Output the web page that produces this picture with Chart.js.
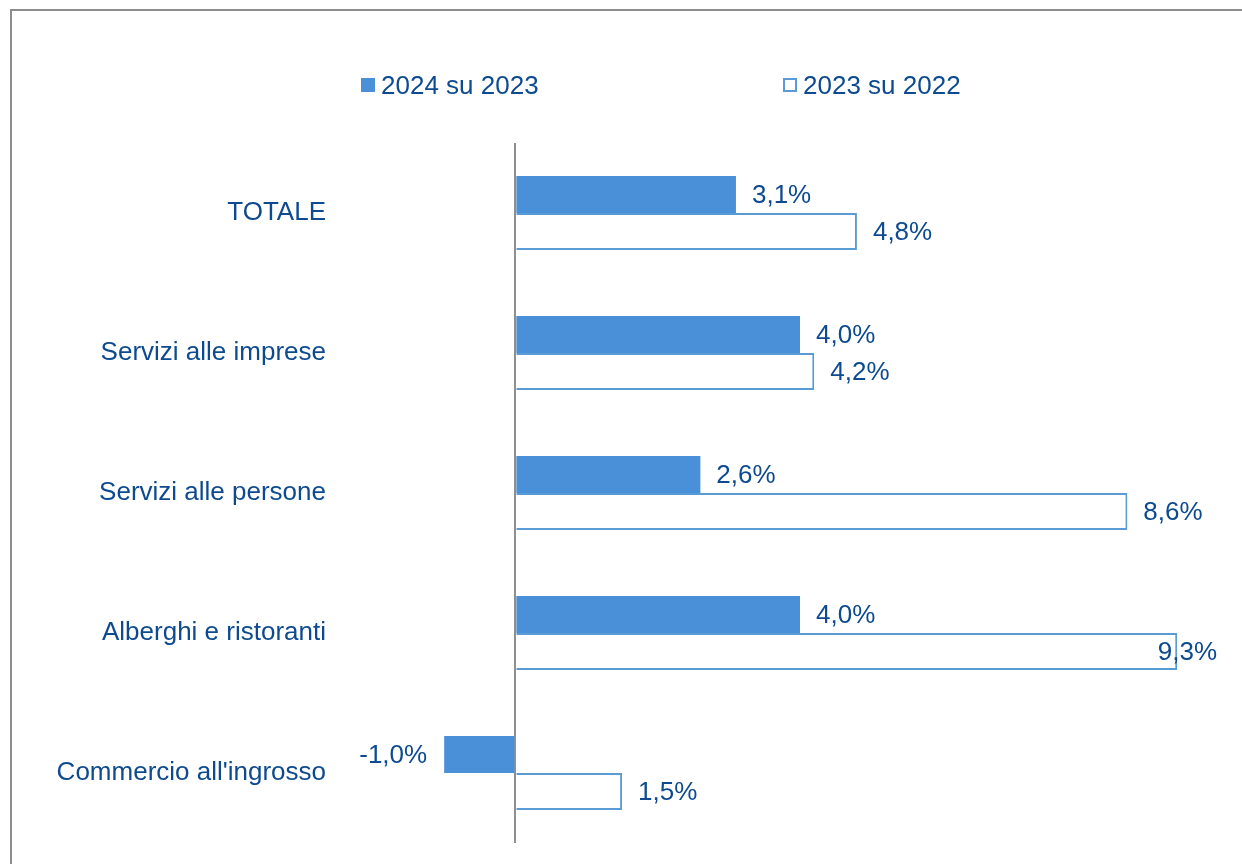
<!DOCTYPE html>
<html lang="it">
<head>
<meta charset="utf-8">
<title>Variazioni 2024 su 2023 e 2023 su 2022</title>
<script src="https://cdn.jsdelivr.net/npm/chart.js@4/dist/chart.umd.min.js"></script>
<style>
    html, body { margin: 0; padding: 0; background: #ffffff; }
    body { width: 1242px; height: 864px; position: relative; overflow: hidden;
           font-family: "Liberation Sans", Arial, sans-serif; }
    #frame { position: absolute; left: 10px; top: 9px; width: 1300px; height: 900px;
             border: 2px solid #8c8c8c; box-sizing: border-box; }
    #chart-wrap { position: absolute; left: 0; top: 0; width: 1242px; height: 864px; }
    .legend-item { position: absolute; top: 71px; height: 28px; line-height: 28px;
                   font-size: 26px; color: #0d4a8f; white-space: nowrap; }
    .legend-box { position: absolute; left: 0; top: 7px; width: 14px; height: 14px; box-sizing: border-box; }
    .legend-item span.txt { position: absolute; left: 20px; top: 0; }
</style>
</head>
<body>
<div id="frame"></div>
<div id="chart-wrap"><canvas id="bars-chart" width="1242" height="864"></canvas></div>
<div id="legend"></div>

<script>
const CATEGORIES  = ["TOTALE", "Servizi alle imprese", "Servizi alle persone", "Alberghi e ristoranti", "Commercio all'ingrosso"];
const SERIES_2024 = [3.1, 4.0, 2.6, 4.0, -1.0];
const SERIES_2023 = [4.8, 4.2, 8.6, 9.3, 1.5];
const SERIES_NAMES = ["2024 su 2023", "2023 su 2022"];

const TEXT_COLOR = "#0d4a8f";
const FILL_BLUE  = "#4a90d9";
const LINE_BLUE  = "#5b9bd5";
const FONT_FAMILY = "'Liberation Sans', Arial, sans-serif";

function formatPct(v)
{
    return v.toFixed(1).replace(".", ",") + "%";
}

// value labels next to each bar end
const valueLabels = {
    id: "valueLabels",
    afterDatasetsDraw(chart)
    {
        const ctx = chart.ctx;
        ctx.save();
        ctx.font = "26px " + FONT_FAMILY;
        ctx.fillStyle = TEXT_COLOR;
        ctx.textBaseline = "middle";
        ctx.textAlign = "left";
        chart.data.datasets.forEach((ds, i) => {
            chart.getDatasetMeta(i).data.forEach((bar, j) => {
                const v = ds.data[j];
                const text = formatPct(v);
                const w = ctx.measureText(text).width;
                let x;
                if (v < 0)
                {
                    x = bar.x - 17 - w;
                }
                else
                {
                    x = bar.x + 16;
                    if (x + w > 1217) x = 1217 - w;
                }
                ctx.fillText(text, x, bar.y + 1);
            });
        });
        ctx.restore();
    }
};

const ctx = document.getElementById("bars-chart").getContext("2d");

const barsChart = new Chart(ctx, {
    type: "bar",
    data: {
        labels: CATEGORIES,
        datasets: [
            {
                label: SERIES_NAMES[0],
                data: SERIES_2024,
                backgroundColor: FILL_BLUE,
                borderWidth: 0
            },
            {
                label: SERIES_NAMES[1],
                data: SERIES_2023,
                backgroundColor: "#ffffff",
                borderColor: LINE_BLUE,
                borderWidth: 2
            }
        ]
    },
    options: {
        indexAxis: "y",
        responsive: false,
        animation: false,
        devicePixelRatio: 1,
        categoryPercentage: 0.53,
        barPercentage: 1,
        layout: { padding: { left: 0, right: 15, top: 143, bottom: 21 } },
        plugins: {
            legend: { display: false },
            tooltip: { enabled: false }
        },
        scales: {
            x: {
                min: -2,
                max: 10,
                ticks: { display: false, stepSize: 1 },
                border: { display: false },
                grid: {
                    drawTicks: false,
                    lineWidth: 2,
                    color: c => (c.tick && c.tick.value === 0) ? "#8f8f8f" : "rgba(0,0,0,0)"
                },
                afterFit: scale => { scale.height = 0; }
            },
            y: {
                grid: { display: false, drawTicks: false },
                border: { display: false },
                ticks: {
                    color: TEXT_COLOR,
                    padding: 47,
                    font: { family: FONT_FAMILY, size: 26 }
                },
                afterFit: scale => {
                    // fixed label column; no extra room above/below the plot
                    scale.width = 373;
                    scale.paddingTop = 0;
                    scale.paddingBottom = 0;
                }
            }
        }
    },
    plugins: [valueLabels]
});

// legend built from the dataset styles
const legendPos = [361, 783];
const legend = document.getElementById("legend");
barsChart.data.datasets.forEach((ds, i) => {
    const item = document.createElement("div");
    item.className = "legend-item";
    item.style.left = legendPos[i] + "px";
    const box = document.createElement("div");
    box.className = "legend-box";
    box.style.background = ds.backgroundColor;
    if (ds.borderWidth) box.style.border = "2px solid " + ds.borderColor;
    const txt = document.createElement("span");
    txt.className = "txt";
    txt.textContent = ds.label;
    item.appendChild(box);
    item.appendChild(txt);
    legend.appendChild(item);
});
</script>
</body>
</html>
